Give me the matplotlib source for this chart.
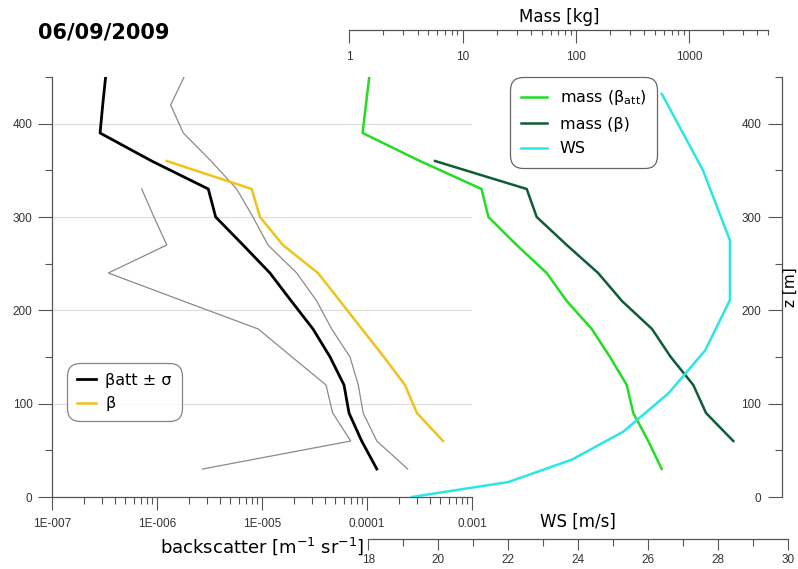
import numpy as np
import matplotlib.pyplot as plt
from matplotlib.ticker import LogLocator, FuncFormatter, MultipleLocator, NullFormatter

# attenuated backscatter and its +/- sigma envelope
z_att = [450, 420, 390, 360, 330, 300, 270, 240, 210, 180, 150, 120, 90, 60, 30]
beta_att = [3.24e-7, 3.04e-7, 2.87e-7, 8.9e-7, 3.08e-6, 3.62e-6, 6.6e-6, 1.19e-5,
            1.9e-5, 3.06e-5, 4.45e-5, 6.04e-5, 6.74e-5, 8.9e-5, 1.24e-4]
z_hi = [450, 420, 390, 360, 330, 300, 270, 240, 210, 180, 150, 120, 90, 60, 30]
beta_hi = [1.81e-6, 1.35e-6, 1.78e-6, 3.27e-6, 5.74e-6, 8.2e-6, 1.14e-5, 2.14e-5,
           3.32e-5, 4.61e-5, 6.89e-5, 8.26e-5, 9.2e-5, 1.24e-4, 2.44e-4]
z_lo = [330, 300, 270, 240, 210, 180, 150, 120, 90, 60, 30]
beta_lo = [7.15e-7, 9.36e-7, 1.24e-6, 3.44e-7, 1.77e-6, 9.22e-6, 1.93e-5,
           4.07e-5, 4.71e-5, 7.0e-5, 2.72e-6]

# corrected backscatter
z_beta = [360, 330, 300, 270, 240, 210, 180, 150, 120, 90, 60]
beta = [1.24e-6, 7.98e-6, 9.57e-6, 1.58e-5, 3.41e-5, 5.53e-5, 8.95e-5,
        1.45e-4, 2.3e-4, 2.99e-4, 5.3e-4]

# ash mass
z_mass_att = [450, 390, 360, 330, 300, 270, 240, 210, 180, 150, 120, 90, 60, 30]
mass_att = [1.50, 1.31, 4.2, 14.7, 16.9, 30.0, 55.2, 83.0, 138, 200, 281, 321, 435, 572]
z_mass_beta = [360, 330, 300, 270, 240, 210, 180, 150, 120, 90, 60]
mass_beta = [5.71, 36.8, 45.1, 83, 157, 255, 470, 687, 1087, 1407, 2449]

# wind speed
z_ws = [432, 350, 275, 211, 157, 111, 70, 40, 16, 0]
ws = [26.39, 27.57, 28.34, 28.34, 27.63, 26.58, 25.29, 23.82, 22.0, 19.24]

W, H = 798, 569
spine_col = '#555555'
tick_font = {'family': 'Liberation Sans', 'size': 8.5, 'color': '#333333'}

fig = plt.figure(figsize=(W / 100, H / 100), dpi=100)


def px_rect(x0, x1, ytop, ybot):
    return [x0 / W, (H - ybot) / H, (x1 - x0) / W, (ybot - ytop) / H]


def style_ticks(ax, axis, major, minor, pad):
    ax.tick_params(axis=axis, which='major', length=major, width=0.8, color=spine_col,
                   pad=pad, labelsize=tick_font['size'], labelcolor=tick_font['color'])
    ax.tick_params(axis=axis, which='minor', length=minor, width=0.8, color=spine_col)
    labels = ax.get_xticklabels() if axis == 'x' else ax.get_yticklabels()
    for lab in labels:
        lab.set_family(tick_font['family'])


def round_frame(leg):
    fr = leg.get_frame()
    fr.set_edgecolor('#666666')
    fr.set_linewidth(0.9)
    fr.set_boxstyle('round,pad=0,rounding_size=0.8')


# ---- backscatter panel ----
ax_b = fig.add_axes(px_rect(52, 472, 77, 497))
ax_b.set_xscale('log')
ax_b.set_xlim(1e-7, 1e-3)
ax_b.set_ylim(0, 450)
for s in ['top', 'right']:
    ax_b.spines[s].set_visible(False)
for s in ['left', 'bottom']:
    ax_b.spines[s].set_color(spine_col)
    ax_b.spines[s].set_linewidth(0.9)
ax_b.yaxis.set_major_locator(MultipleLocator(100))
ax_b.yaxis.set_minor_locator(MultipleLocator(50))
ax_b.xaxis.set_major_locator(LogLocator(base=10, numticks=10))
ax_b.xaxis.set_minor_locator(LogLocator(base=10, subs=np.arange(2, 10), numticks=10))
ax_b.xaxis.set_minor_formatter(NullFormatter())
bs_labels = {-7: '1E-007', -6: '1E-006', -5: '1E-005', -4: '0.0001', -3: '0.001'}
ax_b.xaxis.set_major_formatter(FuncFormatter(
    lambda v, p: bs_labels.get(int(round(np.log10(v))), '')))
ax_b.grid(axis='y', which='major', color='#dddddd', linewidth=0.8)
ax_b.set_axisbelow(True)
style_ticks(ax_b, 'x', 9, 5, 6)
style_ticks(ax_b, 'y', 10, 5, 4)

ax_b.plot(beta_hi, z_hi, color='#8a8a8a', lw=0.9)
ax_b.plot(beta_lo, z_lo, color='#8a8a8a', lw=0.9)
l_att, = ax_b.plot(beta_att, z_att, color='black', lw=2.0, label='βatt ± σ')
l_beta, = ax_b.plot(beta, z_beta, color='#f0c21b', lw=1.8, label='β')
ax_b.set_xlabel(r'backscatter [m$^{-1}$ sr$^{-1}$]', fontsize=13, labelpad=4)

leg1 = ax_b.legend(handles=[l_att, l_beta], loc='upper left',
                   bbox_to_anchor=(0.036, 0.319), borderaxespad=0, fontsize=11.5,
                   handlelength=1.2, handletextpad=0.6, labelspacing=0.55,
                   borderpad=0.6, frameon=True)
round_frame(leg1)

# ---- mass axis (log, drawn above the plot) ----
ax_m = fig.add_axes(px_rect(349.3, 768.4, 77, 497))
ax_m.patch.set_visible(False)
ax_m.set_xscale('log')
ax_m.set_xlim(1, 5000)
ax_m.set_ylim(0, 450)
for s in ['top', 'right', 'left']:
    ax_m.spines[s].set_visible(False)
ax_m.spines['bottom'].set_position(('axes', (497 - 30) / 420))
ax_m.spines['bottom'].set_color(spine_col)
ax_m.spines['bottom'].set_linewidth(0.9)
ax_m.set_yticks([])
ax_m.xaxis.set_major_locator(LogLocator(base=10, numticks=10))
ax_m.xaxis.set_minor_locator(LogLocator(base=10, subs=np.arange(2, 10), numticks=10))
ax_m.xaxis.set_minor_formatter(NullFormatter())
ax_m.xaxis.set_major_formatter(FuncFormatter(lambda v, p: f'{v:g}'))
style_ticks(ax_m, 'x', 9, 3.5, 6)
ax_m.text(0.5, (497 - 17) / 420, 'Mass [kg]', transform=ax_m.transAxes,
          ha='center', va='center', fontsize=12)
l_m1, = ax_m.plot(mass_att, z_mass_att, color='#22dd22', lw=1.8, label=r'mass (β$_{\rm att}$)')
l_m2, = ax_m.plot(mass_beta, z_mass_beta, color='#0e5c38', lw=1.8, label='mass (β)')

# ---- wind speed axis (drawn below the plot) ----
ax_w = fig.add_axes(px_rect(368.3, 788, 77, 497))
ax_w.patch.set_visible(False)
ax_w.set_xlim(18, 30)
ax_w.set_ylim(0, 450)
for s in ['top', 'right', 'left']:
    ax_w.spines[s].set_visible(False)
ax_w.spines['bottom'].set_position(('axes', -(539 - 497) / 420))
ax_w.spines['bottom'].set_color(spine_col)
ax_w.spines['bottom'].set_linewidth(0.9)
ax_w.set_yticks([])
ax_w.xaxis.set_major_locator(MultipleLocator(2))
ax_w.xaxis.set_minor_locator(MultipleLocator(1))
style_ticks(ax_w, 'x', 8, 5, 2.5)
ax_w.text(0.5, -(522 - 497) / 420, 'WS [m/s]', transform=ax_w.transAxes,
          ha='center', va='center', fontsize=12)
l_ws, = ax_w.plot(ws, z_ws, color='#2ae6e6', lw=1.8, label='WS')

# ---- height axis on the right ----
ax_z = fig.add_axes(px_rect(782, 783, 77, 497))
ax_z.patch.set_visible(False)
ax_z.set_ylim(0, 450)
for s in ['top', 'right', 'bottom']:
    ax_z.spines[s].set_visible(False)
ax_z.spines['left'].set_color(spine_col)
ax_z.spines['left'].set_linewidth(0.9)
ax_z.set_xticks([])
ax_z.yaxis.set_major_locator(MultipleLocator(100))
ax_z.yaxis.set_minor_locator(MultipleLocator(50))
style_ticks(ax_z, 'y', 10, 5, 5)
fig.text(790.5 / W, (H - 287) / H, 'z [m]', rotation=90, ha='center', va='center', fontsize=11)

leg2 = fig.legend(handles=[l_m1, l_m2, l_ws], loc='upper left',
                  bbox_to_anchor=(510 / W, (H - 77) / H), borderaxespad=0, fontsize=11.5,
                  handlelength=1.6, handletextpad=0.8, labelspacing=0.6,
                  borderpad=0.7, frameon=True, framealpha=1)
round_frame(leg2)

fig.text(38 / W, (H - 33) / H, '06/09/2009', fontsize=15, fontweight='bold',
         ha='left', va='center')

fig.savefig('out.png', dpi=100)
